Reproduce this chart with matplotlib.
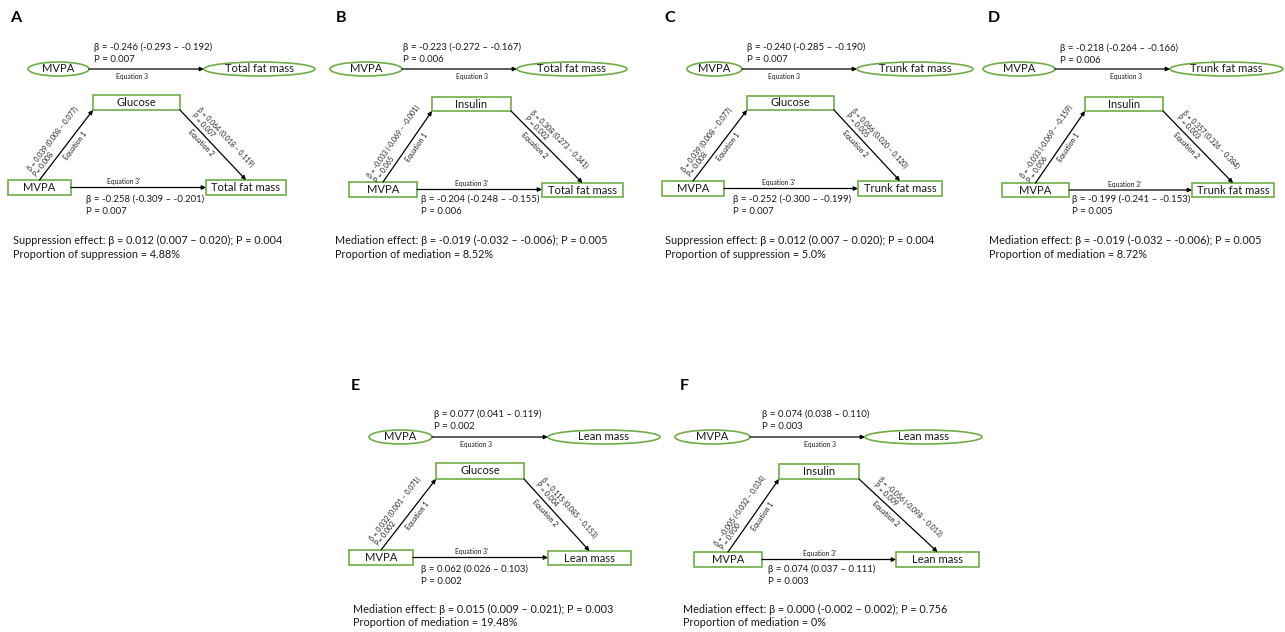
"""Mediation / suppression path diagrams, panels A-F"""

import numpy as np
import matplotlib.pyplot as plt
from matplotlib.patches import Ellipse, Rectangle

plt.rcParams["font.family"] = ["Lato", "DejaVu Sans"]

# ── data ────────────────────────────────────
panel_labels = ["A", "B", "C", "D", "E", "F"]
exposure = "MVPA"
mediators = ["Glucose", "Insulin", "Glucose", "Insulin", "Glucose", "Insulin"]
outcomes = ["Total fat mass", "Total fat mass", "Trunk fat mass",
            "Trunk fat mass", "Lean mass", "Lean mass"]

# Equation 3 (total effect)
total_beta = ["-0.246 (-0.293 – -0.192)", "-0.223 (-0.272 – -0.167)",
              "-0.240 (-0.285 – -0.190)", "-0.218 (-0.264 – -0.166)",
              "0.077 (0.041 – 0.119)", "0.074 (0.038 – 0.110)"]
total_p = ["P = 0.007", "P = 0.006", "P = 0.007", "P = 0.006", "P = 0.002", "P = 0.003"]

# Equation 1 (exposure -> mediator)
a_beta = ["0.039 (0.008 – 0.077)", "-0.033 (-0.069 – -0.001)",
          "0.039 (0.008 – 0.077)", "-0.033 (-0.069 – -0.159)",
          "0.032 (0.001 – 0.071)", "-0.005 (-0.032 – 0.034)"]
a_p = ["P= 0.008", "P = 0.065", "P= 0.008", "P = 0.006", "P= 0.002", "P = 0.900"]

# Equation 2 (mediator -> outcome)
b_beta = ["0.064 (0.018 – 0.119)", "0.308 (0.273 – 0.341)",
          "0.066 (0.020 – 0.120)", "0.357 (0.326 – 0.384)",
          "0.115 (0.085 – 0.153)", "-0.056 (-0.098 – 0.013)"]
b_p = ["P = 0.007", "P = 0.002", "P = 0.005", "P = 0.003", "P = 0.004", "P = 0.009"]

# Equation 3' (direct effect)
direct_beta = ["-0.258 (-0.309 – -0.201)", "-0.204 (-0.248 – -0.155)",
               "-0.252 (-0.300 – -0.199)", "-0.199 (-0.241 – -0.153)",
               "0.062 (0.026 – 0.103)", "0.074 (0.037 – 0.111)"]
direct_p = ["P = 0.007", "P = 0.006", "P = 0.007", "P = 0.005", "P = 0.002", "P = 0.003"]

effect_type = ["Suppression", "Mediation", "Suppression", "Mediation", "Mediation", "Mediation"]
indirect_beta = ["0.012 (0.007 – 0.020)", "-0.019 (-0.032 – -0.006)",
                 "0.012 (0.007 – 0.020)", "-0.019 (-0.032 – -0.006)",
                 "0.015 (0.009 – 0.021)", "0.000 (-0.002 – 0.002)"]
indirect_p = ["0.004", "0.005", "0.004", "0.005", "0.003", "0.756"]
proportion = ["4.88%", "8.52%", "5.0%", "8.72%", "19.48%", "0%"]

# ── layout (pixel coords, y down) ───────────
layout = [
    dict(label=(10, 18), ell_l=(28, 89), ell_r=(204, 315), top_y=69, top_txt=(94, 47), eq3=132,
         med=(93, 180, 95, 110), mvpa=(8, 71, 180, 195), out=(206, 286, 180, 195),
         bot_txt=(86, 199), eq3p=124, summ=(13, 240)),
    dict(label=(336, 18), ell_l=(330, 402), ell_r=(517, 627), top_y=69, top_txt=(403, 47), eq3=472,
         med=(432, 511, 97, 111), mvpa=(349, 417, 182, 197), out=(542, 623, 183, 197),
         bot_txt=(421, 199), eq3p=472, summ=(335, 240)),
    dict(label=(664, 18), ell_l=(687, 742), ell_r=(857, 973), top_y=69, top_txt=(747, 47), eq3=784,
         med=(747, 834, 96, 110), mvpa=(662, 724, 181, 196), out=(858, 942, 181, 196),
         bot_txt=(733, 199), eq3p=779, summ=(665, 240)),
    dict(label=(988, 18), ell_l=(983, 1055), ell_r=(1170, 1283), top_y=69, top_txt=(1060, 48), eq3=1126,
         med=(1085, 1163, 97, 111), mvpa=(1002, 1069, 183, 197), out=(1192, 1274, 183, 197),
         bot_txt=(1072, 199), eq3p=1125, summ=(989, 240)),
    dict(label=(351, 386), ell_l=(369, 432), ell_r=(548, 660), top_y=437, top_txt=(434, 414), eq3=476,
         med=(436, 524, 463, 479), mvpa=(349, 413, 550, 565), out=(548, 631, 551, 565),
         bot_txt=(421, 569), eq3p=472, summ=(353, 609)),
    dict(label=(680, 386), ell_l=(675, 750), ell_r=(865, 982), top_y=437, top_txt=(762, 414), eq3=820,
         med=(779, 859, 464, 479), mvpa=(694, 762, 552, 567), out=(896, 979, 552, 567),
         bot_txt=(768, 569), eq3p=820, summ=(683, 609)),
]

GREEN = "#70AD47"
INK = "#1a1a1a"
ARROW = dict(arrowstyle="-|>", lw=0.9, color="black", mutation_scale=6,
             shrinkA=0, shrinkB=0)


def arrow(ax, p0, p1):
    ax.annotate("", xy=p1, xytext=p0, arrowprops=ARROW)


def slanted_labels(ax, p0, p1, upper, lower, along=0.5, along_low=0.5):
    """两行系数文字贴着斜箭头放置"""
    dx, dy = p1[0] - p0[0], p1[1] - p0[1]
    ang = np.degrees(np.arctan2(-dy, dx))
    s, c = np.sin(np.radians(ang)), np.cos(np.radians(ang))
    nx, ny = -s, -c  # 屏幕左法向 (y 向下)
    mx, my = p0[0] + dx * along, p0[1] + dy * along
    ax.text(mx + nx * 3, my + ny * 3, upper, rotation=ang, rotation_mode="anchor",
            ha="center", va="bottom", multialignment="left", fontsize=5.0,
            color=INK, linespacing=1.1)
    lx, ly = p0[0] + dx * along_low, p0[1] + dy * along_low
    ax.text(lx - nx * 4, ly - ny * 4, lower, rotation=ang, rotation_mode="anchor",
            ha="center", va="top", fontsize=5.0, color=INK)


fig = plt.figure(figsize=(12.85, 6.32), dpi=100)
ax = fig.add_axes([0, 0, 1, 1])
ax.set_xlim(0, 1285)
ax.set_ylim(632, 0)
ax.axis("off")

for i, g in enumerate(layout):
    ax.text(*g["label"], panel_labels[i], fontsize=11.5, fontweight="bold",
            ha="left", va="center", color="black")

    # 总效应
    y = g["top_y"]
    for (x0, x1), name in zip([g["ell_l"], g["ell_r"]], [exposure, outcomes[i]]):
        ax.add_patch(Ellipse(((x0 + x1) / 2, y), x1 - x0, 14, fill=False, ec=GREEN, lw=1.2))
        ax.text((x0 + x1) / 2, y, name, ha="center", va="center", fontsize=8.1, color=INK)
    arrow(ax, (g["ell_l"][1], y), (g["ell_r"][0], y))
    tx, ty = g["top_txt"]
    ax.text(tx, ty, f"β = {total_beta[i]}", fontsize=6.9, va="center", color=INK)
    ax.text(tx, ty + 12.5, total_p[i], fontsize=6.9, va="center", color=INK)
    ax.text(g["eq3"], y + 8, "Equation 3", fontsize=4.9, ha="center", va="center", color=INK)

    # 中介路径
    for box, name in zip([g["med"], g["mvpa"], g["out"]], [mediators[i], exposure, outcomes[i]]):
        x0, x1, y0, y1 = box
        ax.add_patch(Rectangle((x0, y0), x1 - x0, y1 - y0, fill=False, ec=GREEN, lw=1.2))
        ax.text((x0 + x1) / 2, (y0 + y1) / 2, name, ha="center", va="center",
                fontsize=8.1, color=INK)

    mx0, mx1, my0, my1 = g["mvpa"]
    ox0, ox1, oy0, oy1 = g["out"]
    dx0, dx1, dy0, dy1 = g["med"]
    p_start = ((mx0 + mx1) / 2, my0)
    p_med_l = (dx0, dy1)
    p_med_r = (dx1, dy1)
    p_out = ((ox0 + ox1) / 2, oy0)
    arrow(ax, p_start, p_med_l)
    arrow(ax, p_med_r, p_out)
    slanted_labels(ax, p_start, p_med_l, f"β = {a_beta[i]}\n{a_p[i]}", "Equation 1",
                   along=0.46, along_low=0.55)
    slanted_labels(ax, p_med_r, p_out, f"β = {b_beta[i]}\n{b_p[i]}", "Equation 2",
                   along=0.53, along_low=0.4)

    hy = (my0 + my1) / 2
    arrow(ax, (mx1, hy), (ox0, hy))
    ax.text(g["eq3p"], hy - 6, "Equation 3'", fontsize=4.9, ha="center", va="center", color=INK)
    bx, by = g["bot_txt"]
    ax.text(bx, by, f"β = {direct_beta[i]}", fontsize=6.9, va="center", color=INK)
    ax.text(bx, by + 12.5, direct_p[i], fontsize=6.9, va="center", color=INK)

    # 间接效应汇总
    sx, sy = g["summ"]
    ax.text(sx, sy, f"{effect_type[i]} effect: β = {indirect_beta[i]}; P = {indirect_p[i]}",
            fontsize=7.8, va="center", color=INK)
    ax.text(sx, sy + 14, f"Proportion of {effect_type[i].lower()} = {proportion[i]}",
            fontsize=7.8, va="center", color=INK)

fig.savefig("out.png", dpi=100, facecolor="white")
